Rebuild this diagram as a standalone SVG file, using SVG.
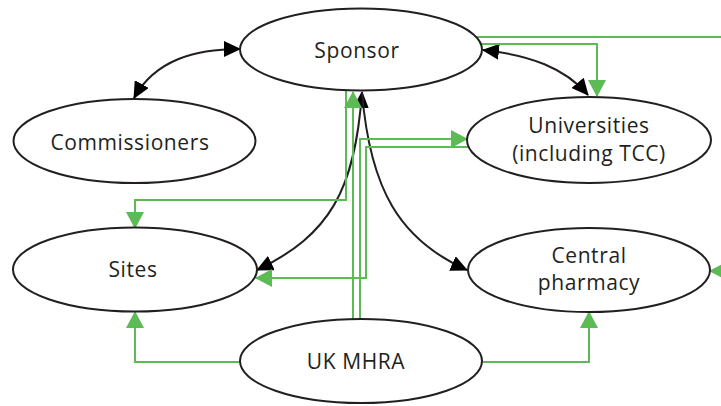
<svg xmlns="http://www.w3.org/2000/svg" width="721" height="406" viewBox="0 0 721 406">
  <style>
    .node ellipse { fill: #ffffff; stroke: #231f20; stroke-width: 2; }
    .node text { font-family: "Open Sans", "Noto Sans", "DejaVu Sans", sans-serif; font-size: 21px; fill: #231f20; text-anchor: middle; letter-spacing: 0.6px; }
    .link { fill: none; stroke: #231f20; stroke-width: 2; }
    .flow { fill: none; stroke: #5dbb55; stroke-width: 2; }
  </style>
  <defs>
    <marker id="arrowBlack" viewBox="0 0 17 16" refX="16" refY="8" markerWidth="17" markerHeight="16" markerUnits="userSpaceOnUse" orient="auto-start-reverse">
      <path d="M0,0 L17,8 L0,16 z" fill="#000000"/>
    </marker>
    <marker id="arrowGreen" viewBox="0 0 17 18" refX="16" refY="9" markerWidth="17" markerHeight="18" markerUnits="userSpaceOnUse" orient="auto">
      <path d="M0,0 L17,9 L0,18 z" fill="#5dbb55"/>
    </marker>
  </defs>

  <!-- connectors -->
  <g id="connectors">
    <!-- two-way links from the sponsor -->
    <path class="link" d="M240,49 C195,49 155,60 134,98" marker-start="url(#arrowBlack)" marker-end="url(#arrowBlack)"/>
    <path class="link" d="M483,50 C530,55 565,68 588,95" marker-start="url(#arrowBlack)" marker-end="url(#arrowBlack)"/>
    <path class="link" d="M362,92 C355,190 330,235 257,270" marker-start="url(#arrowBlack)" marker-end="url(#arrowBlack)"/>
    <path class="link" d="M362,92 C370,190 400,240 467,270" marker-end="url(#arrowBlack)"/>

    <!-- one-way flows -->
    <path class="flow" d="M477,37 H740 V271 H710" marker-end="url(#arrowGreen)"/>
    <path class="flow" d="M480,44 H597 V96" marker-end="url(#arrowGreen)"/>
    <path class="flow" d="M346,91 V200 H135 V228" marker-end="url(#arrowGreen)"/>
    <path class="flow" d="M353,319 V92" marker-end="url(#arrowGreen)"/>
    <path class="flow" d="M360,319 V139 H467" marker-end="url(#arrowGreen)"/>
    <path class="flow" d="M468,147 H366 V278 H256" marker-end="url(#arrowGreen)"/>
    <path class="flow" d="M240,362 H135 V312" marker-end="url(#arrowGreen)"/>
    <path class="flow" d="M482,362 H589 V312" marker-end="url(#arrowGreen)"/>
  </g>

  <g id="sponsor" class="node">
    <ellipse cx="361" cy="49.5" rx="121" ry="41"/>
    <text x="357" y="58">Sponsor</text>
  </g>
  <g id="commissioners" class="node">
    <ellipse cx="134.5" cy="141" rx="121" ry="42"/>
    <text x="130" y="150">Commissioners</text>
  </g>
  <g id="universities" class="node">
    <ellipse cx="589" cy="140" rx="122" ry="43"/>
    <text x="589" y="133">Universities</text>
    <text x="589" y="161">(including TCC)</text>
  </g>
  <g id="sites" class="node">
    <ellipse cx="135" cy="269.5" rx="122" ry="42"/>
    <text x="133" y="277">Sites</text>
  </g>
  <g id="central-pharmacy" class="node">
    <ellipse cx="589" cy="270" rx="121" ry="42"/>
    <text x="589" y="263">Central</text>
    <text x="589" y="290">pharmacy</text>
  </g>
  <g id="uk-mhra" class="node">
    <ellipse cx="361" cy="361" rx="121" ry="42"/>
    <text x="356" y="369">UK MHRA</text>
  </g>
</svg>
